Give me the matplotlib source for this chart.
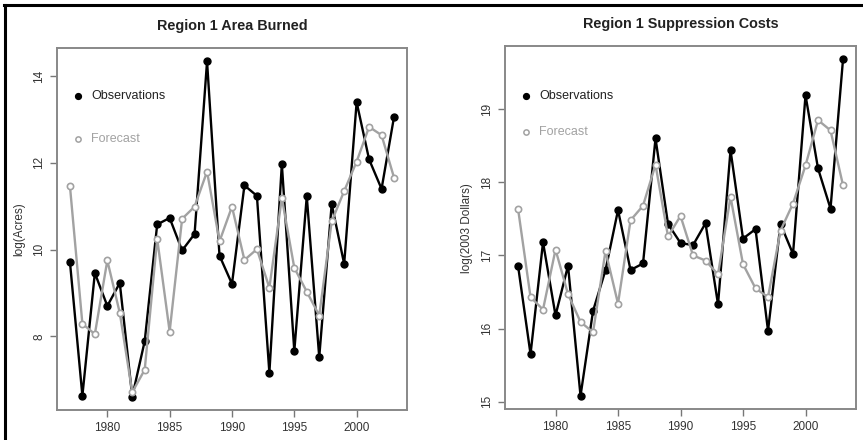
import matplotlib.pyplot as plt
import numpy as np

plt.rcParams['font.family'] = ['Liberation Sans', 'DejaVu Sans']

years = np.arange(1977, 2004)

# log acres burned, region 1
area_obs = [9.72, 6.63, 9.46, 8.70, 9.23, 6.61, 7.89, 10.58, 10.73, 9.98,
            10.36, 14.34, 9.86, 9.21, 11.48, 11.24, 7.16, 11.97, 7.66, 11.23,
            7.52, 11.05, 9.67, 13.40, 12.08, 11.40, 13.06]
area_fc = [11.47, 8.29, 8.05, 9.75, 8.54, 6.71, 7.23, 10.25, 8.11, 10.71,
           10.99, 11.80, 10.19, 10.99, 9.76, 10.01, 9.12, 11.19, 9.58, 9.03,
           8.48, 10.65, 11.35, 12.03, 12.83, 12.64, 11.66]

# log suppression costs (2003 dollars), region 1
cost_obs = [16.86, 15.65, 17.18, 16.18, 16.86, 15.08, 16.24, 16.80, 17.62, 16.80,
            16.89, 18.60, 17.43, 17.17, 17.14, 17.44, 16.33, 18.44, 17.23, 17.36,
            15.97, 17.43, 17.02, 19.19, 18.19, 17.64, 19.68]
cost_fc = [17.64, 16.43, 16.26, 17.08, 16.47, 16.09, 15.95, 17.06, 16.34, 17.48,
           17.68, 18.24, 17.26, 17.54, 17.00, 16.93, 16.74, 17.80, 16.88, 16.55,
           16.43, 17.34, 17.71, 18.23, 18.85, 18.71, 17.96]

panels = [
    ('Region 1 Area Burned', 'log(Acres)', area_obs, area_fc, [8, 10, 12, 14],
     [0.0660, 0.0682, 0.4056, 0.8227], (0.867, 0.749)),
    ('Region 1 Suppression Costs', 'log(2003 Dollars)', cost_obs, cost_fc,
     [15, 16, 17, 18, 19], [0.5852, 0.0698, 0.4067, 0.8257], (0.862, 0.763)),
]

fig = plt.figure(figsize=(8.63, 4.40), dpi=100)

# frame lines along the top and left edge
fig.add_artist(plt.Line2D([0.005, 1], [0.989, 0.989], color='black', lw=2.2))
fig.add_artist(plt.Line2D([0.0058, 0.0058], [0, 0.989], color='black', lw=2.2))

grey = '#a2a2a2'
for title, ylab, obs, fc, yt, pos, leg_y in panels:
    ax = fig.add_axes(pos)
    ax.plot(years, obs, color='black', lw=1.7, marker='o', ms=5,
            markerfacecolor='black', markeredgecolor='black', zorder=3)
    ax.plot(years, fc, color=grey, lw=1.7, marker='o', ms=4.5, mfc='white',
            mec=grey, mew=1.2, zorder=4)

    lo, hi = min(min(obs), min(fc)), max(max(obs), max(fc))
    pad = (hi - lo) * 0.04
    ax.set_ylim(lo - pad, hi + pad)
    ax.set_xlim(1977 - 26 * 0.04, 2003 + 26 * 0.04)

    ax.set_xticks([1980, 1985, 1990, 1995, 2000])
    ax.set_yticks(yt)
    ax.tick_params(colors='#777777', labelcolor='#333333', labelsize=8.5,
                   length=5, width=1)
    for lbl in ax.get_yticklabels():
        lbl.set_rotation(90)
        lbl.set_va('center')
    for sp in ax.spines.values():
        sp.set_color('#888888')
        sp.set_linewidth(1.4)

    ax.set_title(title, fontsize=10.4, fontweight='bold', color='#222222', pad=13)
    ax.set_ylabel(ylab, fontsize=8.5, color='#333333', labelpad=6)

    # legend drawn as plain marks and text
    ax.plot([0.06], [leg_y[0]], transform=ax.transAxes, marker='o', ms=4.2,
            color='black', ls='none')
    ax.text(0.097, leg_y[0], 'Observations', transform=ax.transAxes,
            fontsize=9, color='#222222', va='center')
    ax.plot([0.06], [leg_y[1]], transform=ax.transAxes, marker='o', ms=3.8,
            mfc='white', mec=grey, mew=1.1, ls='none')
    ax.text(0.097, leg_y[1], 'Forecast', transform=ax.transAxes, fontsize=9,
            color=grey, va='center')

fig.savefig('out.png', dpi=100)
